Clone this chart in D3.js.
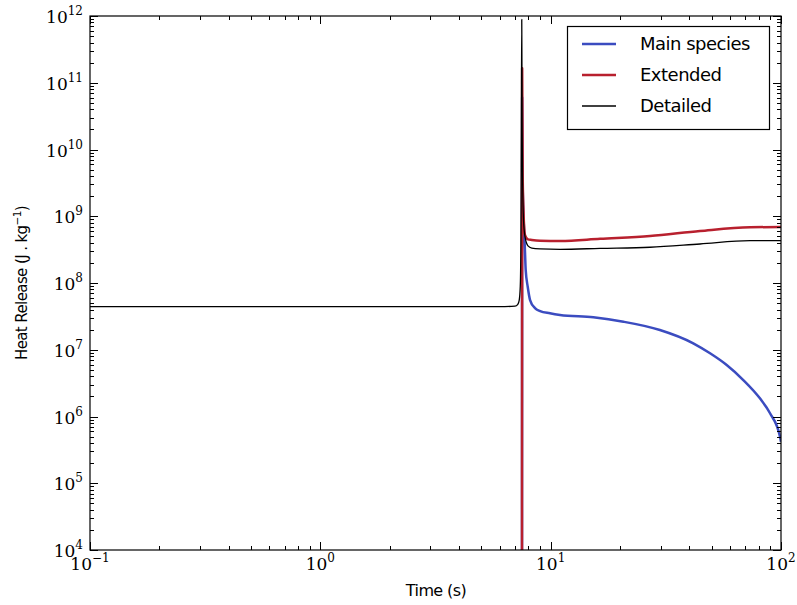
<!DOCTYPE html>
<html><head><meta charset="utf-8">
<script src="https://cdn.jsdelivr.net/npm/d3@7"></script>
<style>body{margin:0;background:#fff}</style>
</head><body><svg id="c" width="797" height="605"></svg>
<script>
// ---- data ----
const seriesNames = ["Main species", "Extended", "Detailed"];
const mainTime = [7.505, 7.52, 7.56, 7.62, 7.69, 7.74, 7.79, 7.95, 8.14, 8.55, 9.0, 9.93, 10.98, 15.32, 20.7, 29.8, 41.6, 49.2, 58.1, 68.6, 81.0, 89.6, 99.0, 100];
const mainHR = [1e2, 6e10, 3e9, 1e9, 5e8, 2.8e8, 1.57e8, 8.8e7, 5.56e7, 4.2e7, 3.8e7, 3.52e7, 3.32e7, 3.06e7, 2.63e7, 1.98e7, 1.25e7, 8.85e6, 5.91e6, 3.52e6, 1.87e6, 1.12e6, 4.98e5, 4.19e5];
const extTime = [7.505, 7.52, 7.56, 7.62, 7.68, 7.74, 7.97, 8.28, 9.0, 11, 16.4, 27, 44.5, 73.4, 100];
const extHR = [1e2, 1.65e11, 4e9, 1.2e9, 6.5e8, 5.2e8, 4.5e8, 4.41e8, 4.3e8, 4.26e8, 4.6e8, 5.06e8, 6.01e8, 6.83e8, 6.9e8];
const detTime = [0.1, 0.5, 1, 3, 6, 7.0, 7.2, 7.3, 7.38, 7.43, 7.46, 7.49, 7.52, 7.56, 7.62, 7.74, 7.97, 8.28, 9.0, 11, 16.4, 27, 44.5, 73.4, 100];
const detHR = [4.42e7, 4.42e7, 4.42e7, 4.42e7, 4.42e7, 4.5e7, 4.8e7, 5.5e7, 9e7, 5e8, 2e10, 8.9e11, 2e10, 3e9, 9e8, 4.9e8, 3.6e8, 3.34e8, 3.25e8, 3.2e8, 3.3e8, 3.43e8, 3.84e8, 4.3e8, 4.3e8];
const xTickExps = [-1, 0, 1, 2];
const yTickExps = [4, 5, 6, 7, 8, 9, 10, 11, 12];
const colors = ["#3b4cc0", "#b8202e", "#000000"];
const widths = [2.5, 2.5, 1.3];

// ---- layout ----
const L = 90, R = 781, T = 16, B = 550;
const svg = d3.select("#c");
const x = d3.scaleLog().domain([0.1, 100]).range([L, R]);
const y = d3.scaleLog().domain([1e4, 1e12]).range([B, T]);

svg.append("defs").append("clipPath").attr("id", "clip")
  .append("rect").attr("x", L).attr("y", T).attr("width", R - L).attr("height", B - T);

const series = [
  {t: mainTime, v: mainHR},
  {t: extTime, v: extHR},
  {t: detTime, v: detHR}
];
const line = d3.line().x(d => x(d[0])).y(d => y(d[1])).curve(d3.curveMonotoneX);
const g = svg.append("g").attr("clip-path", "url(#clip)");
series.forEach((s, i) => {
  const pts = s.t.map((t, j) => [t, s.v[j]]);
  g.append("path").attr("d", line(pts)).attr("fill", "none")
    .attr("stroke", colors[i]).attr("stroke-width", widths[i]).attr("stroke-linejoin", "round");
});

// ---- frame & ticks ----
const ax = svg.append("g").attr("stroke", "#000").attr("stroke-width", 1);
ax.append("rect").attr("x", L).attr("y", T).attr("width", R - L).attr("height", B - T).attr("fill", "none").attr("stroke-width", 1.2);
function tickSet(exps) {
  const maj = exps.map(e => Math.pow(10, e));
  const min = [];
  for (let k = 0; k < exps.length - 1; k++) for (let m = 2; m <= 9; m++) min.push(m * Math.pow(10, exps[k]));
  return {maj, min};
}
const xt = tickSet(xTickExps), yt = tickSet(yTickExps);
xt.maj.forEach(v => { const px = Math.round(x(v)) + 0.5;
  ax.append("line").attr("x1", px).attr("x2", px).attr("y1", B).attr("y2", B - 8);
  ax.append("line").attr("x1", px).attr("x2", px).attr("y1", T).attr("y2", T + 8); });
xt.min.forEach(v => { const px = Math.round(x(v)) + 0.5;
  ax.append("line").attr("x1", px).attr("x2", px).attr("y1", B).attr("y2", B - 4);
  ax.append("line").attr("x1", px).attr("x2", px).attr("y1", T).attr("y2", T + 4); });
yt.maj.forEach(v => { const py = Math.round(y(v)) + 0.5;
  ax.append("line").attr("y1", py).attr("y2", py).attr("x1", L).attr("x2", L + 8);
  ax.append("line").attr("y1", py).attr("y2", py).attr("x1", R).attr("x2", R - 8); });
yt.min.forEach(v => { const py = Math.round(y(v)) + 0.5;
  ax.append("line").attr("y1", py).attr("y2", py).attr("x1", L).attr("x2", L + 4);
  ax.append("line").attr("y1", py).attr("y2", py).attr("x1", R).attr("x2", R - 4); });

// tick labels
const serif = "'DejaVu Serif', serif";
function powLabel(sel, e) {
  sel.append("tspan").text("10");
  sel.append("tspan").attr("dy", -8).attr("font-size", 12).text(String(e).replace("-", "\u2212"));
}
xTickExps.forEach(e => {
  const t = svg.append("text").attr("x", x(Math.pow(10, e))).attr("y", 570)
    .attr("text-anchor", "middle").attr("font-family", serif).attr("font-size", 17);
  powLabel(t, e);
});
yTickExps.forEach(e => {
  const t = svg.append("text").attr("x", 83).attr("y", y(Math.pow(10, e)) + 7)
    .attr("text-anchor", "end").attr("font-family", serif).attr("font-size", 17);
  powLabel(t, e);
});

// axis titles
const sans = "'DejaVu Sans', sans-serif";
svg.append("text").attr("x", 436).attr("y", 596).attr("text-anchor", "middle")
  .attr("font-family", sans).attr("font-size", 16).attr("letter-spacing", -0.6).text("Time (s)");
const yl = svg.append("text").attr("transform", "translate(27,283) rotate(-90)")
  .attr("text-anchor", "middle").attr("font-family", sans).attr("font-size", 15).attr("letter-spacing", -0.6);
yl.append("tspan").text("Heat Release (J . kg");
yl.append("tspan").attr("dy", -6).attr("font-size", 10.5).text("\u22121");
yl.append("tspan").attr("dy", 6).text(")");

// legend
const lg = svg.append("g");
lg.append("rect").attr("x", 567.5).attr("y", 26.5).attr("width", 202).attr("height", 103)
  .attr("fill", "#fff").attr("stroke", "#000").attr("stroke-width", 1.2);
seriesNames.forEach((n, i) => {
  const ly = 44 + i * 31;
  lg.append("line").attr("x1", 582).attr("x2", 616).attr("y1", ly).attr("y2", ly)
    .attr("stroke", colors[i]).attr("stroke-width", widths[i]);
  lg.append("text").attr("x", 640).attr("y", ly + 6).attr("font-family", sans).attr("font-size", 18)
    .attr("letter-spacing", -0.5).text(n);
});
</script></body></html>
